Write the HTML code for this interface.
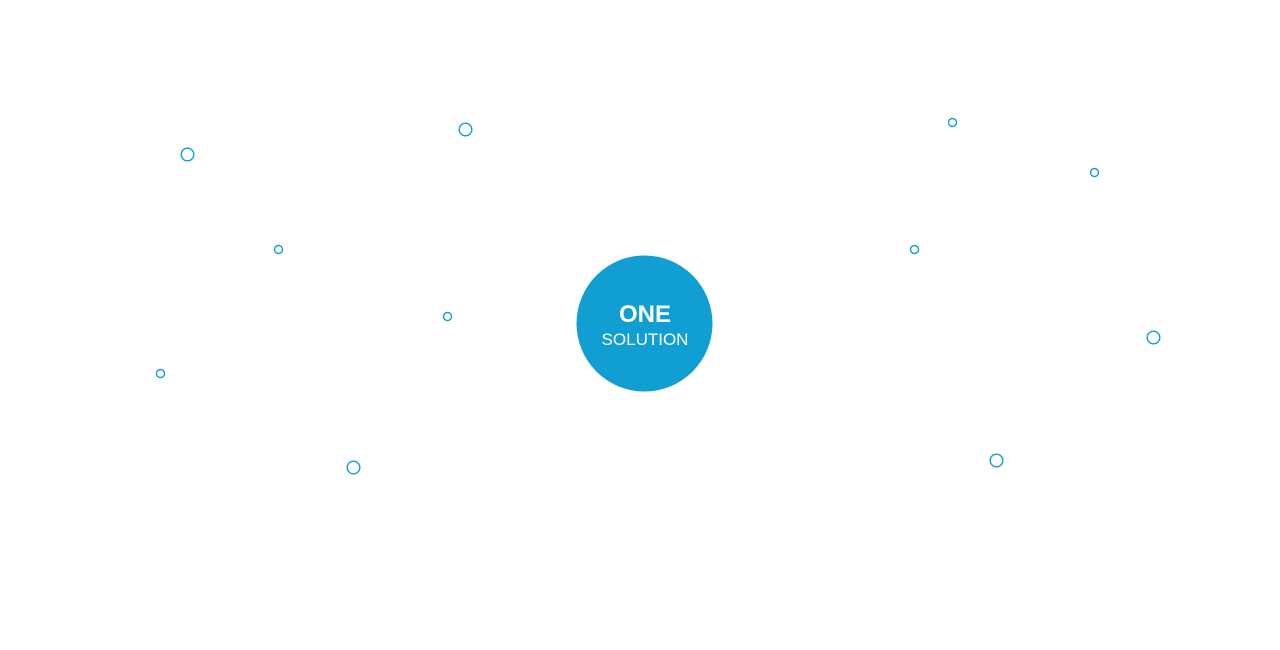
<!DOCTYPE html>
<html><head><meta charset="utf-8"><style>
html,body{margin:0;padding:0;background:#fff;width:1280px;height:650px;overflow:hidden}
</style></head><body>
<svg width="1280" height="650" viewBox="0 0 1280 650" xmlns="http://www.w3.org/2000/svg">
<g fill="none" stroke="#119ed2" stroke-width="1.4">
<circle cx="187.5" cy="154.5" r="6.3"/>
<circle cx="465.5" cy="129.5" r="6.3"/>
<circle cx="278.5" cy="249.5" r="4"/>
<circle cx="447.5" cy="316.5" r="4"/>
<circle cx="160.5" cy="373.5" r="4"/>
<circle cx="353.5" cy="467.5" r="6.3"/>
<circle cx="952.5" cy="122.5" r="4"/>
<circle cx="1094.5" cy="172.5" r="4"/>
<circle cx="914.5" cy="249.5" r="4"/>
<circle cx="1153.5" cy="337.5" r="6.3"/>
<circle cx="996.5" cy="460.5" r="6.3"/>
</g>
<circle cx="644.5" cy="323.5" r="68" fill="#119ed2"/>
<text x="645" y="322" text-anchor="middle" fill="#fff" font-family="Liberation Sans, sans-serif" font-weight="bold" font-size="24">ONE</text>
<text x="645" y="345" text-anchor="middle" fill="#fff" font-family="Liberation Sans, sans-serif" font-size="17">SOLUTION</text>
</svg>
</body></html>
